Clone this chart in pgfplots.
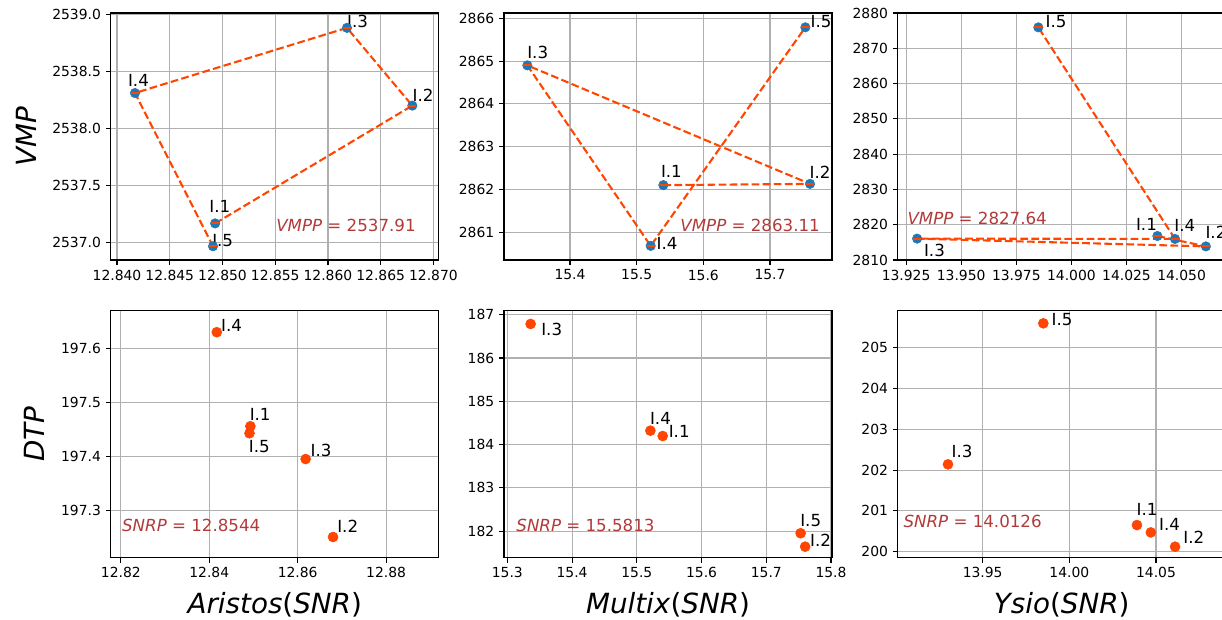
\documentclass[border=0pt]{standalone}
\usepackage{fontspec}
\setmainfont{DejaVu Sans}
\usepackage{pgfplots}
\pgfplotsset{compat=1.18}
\definecolor{mplblue}{HTML}{1F77B4}
\definecolor{ored}{HTML}{FF4500}
\definecolor{gridgray}{HTML}{B0B0B0}
\definecolor{annot}{RGB}{178,58,58}
\pgfplotsset{
  myax/.style={
    scale only axis, width=236.16pt, height=177.84pt, anchor=south west,
    axis line style={line width=0.8pt, black},
    grid=major, grid style={line width=0.8pt, color=gridgray},
    tick align=outside, xtick pos=left, ytick pos=left,
    major tick length=3.5pt, tick style={line width=0.8pt, black},
    scaled ticks=false,
    tick label style={font=\fontsize{10}{12}\selectfont, black},
    /pgf/number format/assume math mode=true,
    /pgf/number format/1000 sep={},
    clip=false,
    label style={font=\fontsize{20}{24}\selectfont},
    xlabel style={at={(axis description cs:0.5,-0.225)}, anchor=base},
  },
  topline/.style={color=ored, dashed, dash pattern=on 5.55pt off 2.4pt, line width=1.5pt, mark=-, mark size=3pt, mark options={solid, line width=1.5pt}},
  topdots/.style={only marks, mark=*, mark size=3.4pt, color=mplblue, mark options={draw=mplblue, fill=mplblue}},
  botdots/.style={only marks, mark=*, mark size=3.6pt, color=ored, mark options={draw=ored, fill=ored}},
}
\newcommand\lab[5]{\node[anchor=base west, inner sep=0pt, font=\fontsize{12}{14}\selectfont, xshift=#4, yshift=#5] at (axis cs:#1,#2) {#3};}
\newcommand\ann[3]{\node[anchor=base west, inner sep=0pt, text=annot, font=\fontsize{12}{14}\selectfont] at (rel axis cs:#1,#2) {#3};}
\begin{document}
\begin{tikzpicture}
\useasboundingbox (0,0) rectangle (879.84pt,446.4pt);
\clip (0,0) rectangle (879.84pt,446.4pt);
% ---------- top left
\begin{axis}[myax, at={(79.70pt,259.2pt)},
  xmin=12.8394, xmax=12.8705, ymin=2536.85, ymax=2539.01,
  xtick={12.840,12.845,12.850,12.855,12.860,12.865,12.870},
  ytick={2537.0,2537.5,2538.0,2538.5,2539.0},
  xticklabel style={/pgf/number format/.cd, fixed, fixed zerofill, precision=3},
  yticklabel style={/pgf/number format/.cd, fixed, fixed zerofill, precision=1},
  ylabel={\textit{VMP}}, ylabel style={at={(axis description cs:-0.2256,0.5)}, anchor=base}]
\addplot[topdots] coordinates {(12.8493,2537.17) (12.8680,2538.20) (12.8618,2538.88) (12.8417,2538.31) (12.8491,2536.97)};
\addplot[topline] coordinates {(12.8493,2537.17) (12.8680,2538.20) (12.8618,2538.88) (12.8417,2538.31) (12.8491,2536.97)};
\lab{12.8493}{2537.17}{I.1}{-4.25pt}{7.92pt}
\lab{12.8680}{2538.20}{I.2}{0pt}{3.1pt}
\lab{12.8618}{2538.88}{I.3}{0pt}{0pt}
\lab{12.8417}{2538.31}{I.4}{-5.18pt}{4.82pt}
\lab{12.8491}{2536.97}{I.5}{-0.72pt}{0pt}
\ann{0.504}{0.117}{\textit{VMPP} = 2537.91}
\end{axis}
% ---------- top middle
\begin{axis}[myax, at={(362.88pt,259.2pt)},
  xmin=15.301, xmax=15.793, ymin=2860.35, ymax=2866.125,
  xtick={15.4,15.5,15.6,15.7},
  ytick={2861,2862,2863,2864,2865,2866},
  xticklabel style={/pgf/number format/.cd, fixed, fixed zerofill, precision=1},
  yticklabel style={/pgf/number format/.cd, fixed, precision=0}]
\addplot[topdots] coordinates {(15.540,2862.10) (15.760,2862.13) (15.336,2864.90) (15.521,2860.68) (15.753,2865.79)};
\addplot[topline] coordinates {(15.540,2862.10) (15.760,2862.13) (15.336,2864.90) (15.521,2860.68) (15.753,2865.79)};
\lab{15.540}{2862.10}{I.1}{-1.87pt}{5.76pt}
\lab{15.760}{2862.13}{I.2}{-0.43pt}{3.6pt}
\lab{15.336}{2864.90}{I.3}{-0.22pt}{5.04pt}
\lab{15.521}{2860.68}{I.4}{4.1pt}{-2.88pt}
\lab{15.753}{2865.79}{I.5}{3.6pt}{0pt}
\ann{0.537}{0.115}{\textit{VMPP} = 2863.11}
\end{axis}
% ---------- top right
\begin{axis}[myax, at={(646.34pt,259.2pt)},
  xmin=13.9212, xmax=14.070, ymin=2810, ymax=2880,
  xtick={13.925,13.950,13.975,14.000,14.025,14.050},
  ytick={2810,2820,2830,2840,2850,2860,2870,2880},
  xticklabel style={/pgf/number format/.cd, fixed, fixed zerofill, precision=3},
  yticklabel style={/pgf/number format/.cd, fixed, precision=0}]
\addplot[topdots] coordinates {(14.039,2816.8) (14.061,2813.85) (13.930,2816.06) (14.047,2815.97) (13.985,2875.93)};
\addplot[topline] coordinates {(14.039,2816.8) (14.061,2813.85) (13.930,2816.06) (14.047,2815.97) (13.985,2875.93)};
\lab{14.039}{2816.8}{I.1}{-15.55pt}{4.32pt}
\lab{14.061}{2813.85}{I.2}{-0.43pt}{5.98pt}
\lab{13.930}{2816.06}{I.3}{4.82pt}{-12.96pt}
\lab{14.047}{2815.97}{I.4}{-0.65pt}{5.04pt}
\lab{13.985}{2875.93}{I.5}{5.11pt}{0pt}
\ann{0.029}{0.142}{\textit{VMPP} = 2827.64}
\end{axis}
% ---------- bottom left
\begin{axis}[myax, at={(79.70pt,44.86pt)},
  xmin=12.8177, xmax=12.8919, ymin=197.2115, ymax=197.671,
  xtick={12.82,12.84,12.86,12.88},
  ytick={197.3,197.4,197.5,197.6},
  xticklabel style={/pgf/number format/.cd, fixed, fixed zerofill, precision=2},
  yticklabel style={/pgf/number format/.cd, fixed, fixed zerofill, precision=1},
  xlabel={\textit{Aristos}(\textit{SNR})},
  ylabel={\textit{DTP}}, ylabel style={at={(axis description cs:-0.2003,0.5)}, anchor=base}]
\addplot[botdots] coordinates {(12.8493,197.456) (12.8680,197.250) (12.8618,197.395) (12.8417,197.631) (12.8491,197.443)};
\lab{12.8493}{197.456}{I.1}{-0.65pt}{3.82pt}
\lab{12.8680}{197.250}{I.2}{2.88pt}{3.38pt}
\lab{12.8618}{197.395}{I.3}{3.46pt}{1.66pt}
\lab{12.8417}{197.631}{I.4}{2.95pt}{0.5pt}
\lab{12.8491}{197.443}{I.5}{-0.65pt}{-14.11pt}
\ann{0.034}{0.108}{\textit{SNRP} = 12.8544}
\end{axis}
% ---------- bottom middle
\begin{axis}[myax, at={(362.88pt,44.86pt)},
  xmin=15.2949, xmax=15.8015, ymin=181.385, ymax=187.092,
  xtick={15.3,15.4,15.5,15.6,15.7,15.8},
  ytick={182,183,184,185,186,187},
  xticklabel style={/pgf/number format/.cd, fixed, fixed zerofill, precision=1},
  yticklabel style={/pgf/number format/.cd, fixed, precision=0},
  xlabel={\textit{Multix}(\textit{SNR})}]
\addplot[botdots] coordinates {(15.540,184.196) (15.760,181.64) (15.336,186.786) (15.521,184.32) (15.753,181.95)};
\lab{15.540}{184.196}{I.1}{4.18pt}{-1.15pt}
\lab{15.760}{181.64}{I.2}{3.46pt}{0pt}
\lab{15.336}{186.786}{I.3}{7.49pt}{-8.42pt}
\lab{15.521}{184.32}{I.4}{-0.43pt}{4.54pt}
\lab{15.753}{181.95}{I.5}{-0.43pt}{4.54pt}
\ann{0.037}{0.108}{\textit{SNRP} = 15.5813}
\end{axis}
% ---------- bottom right
\begin{axis}[myax, at={(646.34pt,44.86pt)},
  xmin=13.901, xmax=14.0902, ymin=199.85, ymax=205.91,
  xtick={13.95,14.00,14.05},
  ytick={200,201,202,203,204,205},
  xticklabel style={/pgf/number format/.cd, fixed, fixed zerofill, precision=2},
  yticklabel style={/pgf/number format/.cd, fixed, precision=0},
  xlabel={\textit{Ysio}(\textit{SNR})}]
\addplot[botdots] coordinates {(14.039,200.65) (14.061,200.12) (13.930,202.14) (14.047,200.47) (13.985,205.60)};
\lab{14.039}{200.65}{I.1}{-0.43pt}{6.7pt}
\lab{14.061}{200.12}{I.2}{5.83pt}{2.45pt}
\lab{13.930}{202.14}{I.3}{2.45pt}{4.75pt}
\lab{14.047}{200.47}{I.4}{5.83pt}{1.22pt}
\lab{13.985}{205.60}{I.5}{5.76pt}{-1.66pt}
\ann{0.017}{0.123}{\textit{SNRP} = 14.0126}
\end{axis}
\end{tikzpicture}
\end{document}
